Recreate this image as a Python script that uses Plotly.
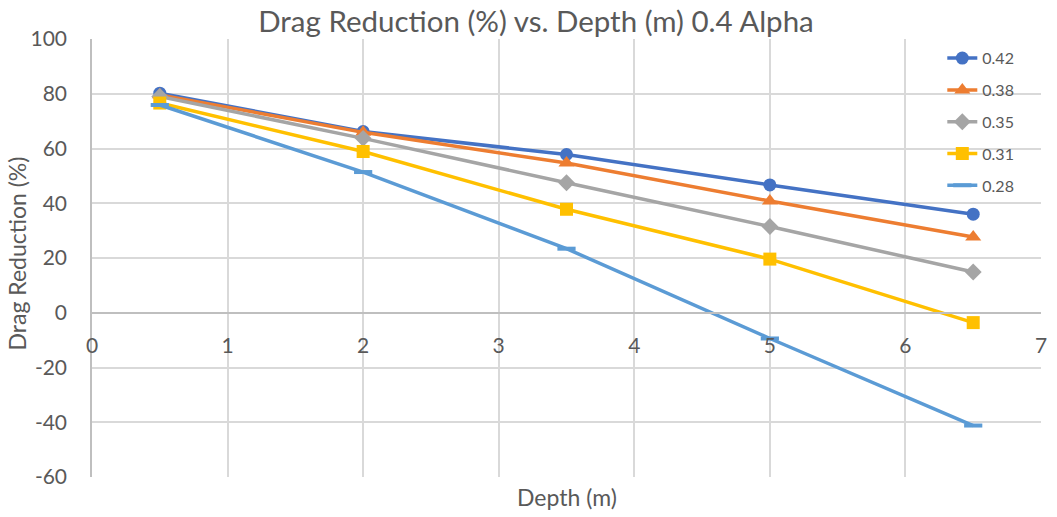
import plotly.graph_objects as go

depth = [0.5, 2, 3.5, 5, 6.5]
series_names = ["0.42", "0.38", "0.35", "0.31", "0.28"]
drag_042 = [80.2, 66.2, 57.8, 46.7, 36.0]
drag_038 = [79.6, 65.9, 54.7, 40.8, 27.7]
drag_035 = [79.0, 63.7, 47.5, 31.5, 14.9]
drag_031 = [76.6, 58.9, 37.8, 19.6, -3.6]
drag_028 = [75.9, 51.4, 23.4, -9.4, -41.2]

x_ticks = [0, 1, 2, 3, 4, 5, 6, 7]
y_ticks = [-60, -40, -20, 0, 20, 40, 60, 80, 100]

values = [drag_042, drag_038, drag_035, drag_031, drag_028]
colors = ["#4472C4", "#ED7D31", "#A5A5A5", "#FFC000", "#5B9BD5"]
symbols = ["circle", "triangle-up", "diamond", "square", "line-ew"]
sizes = [13, 14, 13, 13, 13]

FONT = "Lato, 'Open Sans', sans-serif"
TXT = "#595959"

fig = go.Figure()
for i, (name, ys) in enumerate(zip(series_names, values)):
    marker = dict(symbol=symbols[i], size=sizes[i], color=colors[i])
    if symbols[i] == "line-ew":
        marker["line"] = dict(color=colors[i], width=4)
    else:
        marker["line"] = dict(width=0)
    fig.add_trace(go.Scatter(
        x=depth, y=ys, name=name, mode="lines+markers",
        line=dict(color=colors[i], width=3.5),
        marker=marker, legendgroup=f"g{i}",
    ))

y_min, y_max = -60, 100
fig.update_layout(
    width=1057, height=517,
    margin=dict(l=92, r=10, t=39, b=40),
    paper_bgcolor="white", plot_bgcolor="white",
    font=dict(family=FONT, color=TXT, size=21),
    title=dict(text="Drag Reduction (%) vs. Depth (m) 0.4 Alpha",
               x=536 / 1057, xanchor="center", y=1 - 22 / 517, yanchor="middle",
               font=dict(size=29.5, color=TXT, family=FONT)),
    xaxis=dict(range=[0, 7], tickvals=x_ticks,
               ticktext=[str(v) for v in x_ticks], showgrid=True,
               gridcolor="#D9D9D9", gridwidth=1.5,
               showline=True, linecolor="#BFBFBF", linewidth=1.5,
               anchor="free", position=(0 - y_min) / (y_max - y_min),
               zeroline=False, ticks="", ticklabelstandoff=14,
               tickfont=dict(size=21, color=TXT)),
    yaxis=dict(range=[y_min, y_max], tickvals=y_ticks,
               ticktext=[str(v) for v in y_ticks], showgrid=True,
               gridcolor="#D9D9D9", gridwidth=1.5,
               showline=True, linecolor="#BFBFBF", linewidth=1.5,
               zeroline=False, ticks="", ticklabelstandoff=19,
               tickfont=dict(size=21, color=TXT)),
    legend=dict(x=0.896, y=0.995, xanchor="left", yanchor="top",
                bgcolor="rgba(0,0,0,0)", tracegroupgap=8,
                traceorder="grouped",
                font=dict(size=16, color=TXT, family=FONT)),
    annotations=[
        dict(text="Depth (m)", x=0.5005, y=(477 - 497) / 438,
             xref="paper", yref="paper",
             xanchor="center", yanchor="middle", showarrow=False,
             font=dict(size=23, color=TXT)),
        dict(text="Drag Reduction (%)", x=(17 - 92) / 955, y=(477 - 253) / 438,
             xref="paper", yref="paper", xanchor="center", yanchor="middle",
             textangle=-90, showarrow=False, font=dict(size=23, color=TXT)),
    ],
)

fig.write_html("out.html")
